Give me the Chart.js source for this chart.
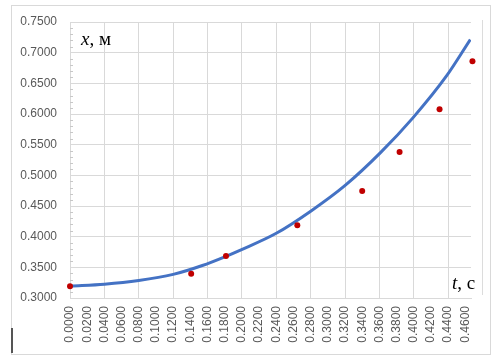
<!DOCTYPE html>
<html>
<head>
<meta charset="utf-8">
<script src="https://cdn.jsdelivr.net/npm/chart.js@4"></script>
<style>
html,body{margin:0;padding:0;background:#fff;}
#wrap{position:relative;width:501px;height:361px;overflow:hidden;}
#frame{position:absolute;left:11px;top:5px;width:480px;height:350px;border:1px solid #d9d9d9;box-sizing:border-box;}
#inner{position:absolute;left:482px;top:20px;width:1px;height:275px;background:#dcdcdc;}
#cursor{position:absolute;left:11px;top:328px;width:2px;height:25px;background:#555;}
canvas{position:absolute;left:0;top:0;}
</style>
</head>
<body>
<div id="wrap">
  <div id="frame"></div>
  <div id="inner"></div>
  <div id="cursor"></div>
  <canvas id="c" width="501" height="361"></canvas>
</div>
<script>
// Measured points (t, s) and (x, m)
const tPoints = [0.000, 0.141, 0.1815, 0.2645, 0.340, 0.3835, 0.4300, 0.4683];
const xPoints = [0.319, 0.3396, 0.3685, 0.4185, 0.4746, 0.5382, 0.6077, 0.6860];

// Trend curve
const tCurve = [0.001, 0.040, 0.080, 0.120, 0.154, 0.1815, 0.199, 0.240, 0.2805, 0.3205, 0.3613, 0.399, 0.4379, 0.4658];
const xCurve = [0.3195, 0.3225, 0.3285, 0.3385, 0.3530, 0.3680, 0.3785, 0.4055, 0.4420, 0.4840, 0.5370, 0.5937, 0.6616, 0.7214];

// Tick labels
const xTicks = [0.00,0.02,0.04,0.06,0.08,0.10,0.12,0.14,0.16,0.18,0.20,0.22,0.24,0.26,0.28,0.30,0.32,0.34,0.36,0.38,0.40,0.42,0.44,0.46];
const yTicks = [0.30,0.35,0.40,0.45,0.50,0.55,0.60,0.65,0.70,0.75];

const GRID = '#d9d9d9';
const LABEL = '#595959';
const FONT = {family: "'Liberation Sans', Arial, sans-serif", size: 12};

const extras = {
  id: 'extras',
  beforeDatasetsDraw(chart) {
    const ctx = chart.ctx, y = chart.scales.y, a = chart.chartArea;
    ctx.save();
    ctx.strokeStyle = '#c8c8c8';
    ctx.lineWidth = 1;
    for (let i = 30; i <= 75; i++) {
      if (i % 5 === 0) continue;
      const py = Math.round(y.getPixelForValue(i / 100)) + 0.5;
      ctx.beginPath();
      ctx.moveTo(a.left, py);
      ctx.lineTo(a.left + 3, py);
      ctx.stroke();
    }
    ctx.restore();
  },
  afterDraw(chart) {
    const ctx = chart.ctx;
    ctx.save();
    ctx.fillStyle = '#000';
    ctx.textBaseline = 'alphabetic';
    // y axis title
    ctx.font = "italic 19px 'Liberation Serif', 'Times New Roman', serif";
    ctx.fillText('x', 81, 45);
    let w = ctx.measureText('x').width;
    ctx.font = "19px 'Liberation Serif', 'Times New Roman', serif";
    ctx.fillText(', м', 81 + w, 45);
    // x axis title
    ctx.font = "italic 19px 'Liberation Serif', 'Times New Roman', serif";
    ctx.fillText('t', 452, 289);
    w = ctx.measureText('t').width;
    ctx.font = "19px 'Liberation Serif', 'Times New Roman', serif";
    ctx.fillText(', с', 452 + w, 289);
    ctx.restore();
  }
};

new Chart(document.getElementById('c'), {
  type: 'scatter',
  data: {
    datasets: [
      {
        type: 'line',
        data: tCurve.map((t, i) => ({x: t, y: xCurve[i]})),
        borderColor: '#4472C4',
        borderWidth: 3,
        pointRadius: 0,
        cubicInterpolationMode: 'monotone',
        fill: false,
        order: 2
      },
      {
        data: tPoints.map((t, i) => ({x: t, y: xPoints[i]})),
        backgroundColor: '#C00000',
        borderColor: '#C00000',
        pointRadius: 3,
        borderWidth: 0,
        clip: false,
        order: 1
      }
    ]
  },
  options: {
    responsive: false,
    animation: false,
    layout: {padding: {left: 0, right: 30, top: 22, bottom: 0}},
    plugins: {legend: {display: false}, tooltip: {enabled: false}},
    scales: {
      x: {
        type: 'linear',
        min: 0,
        max: 0.4666,
        afterBuildTicks: s => { s.ticks = xTicks.map(v => ({value: v})); },
        afterFit: s => { s.height = 63; },
        grid: {
          color: c => (c.tick && Math.round(c.tick.value * 100) % 4 === 0 && c.tick.value > 0) ? GRID : 'rgba(0,0,0,0)',
          drawTicks: false,
          lineWidth: 1
        },
        border: {color: GRID},
        ticks: {
          autoSkip: false,
          maxRotation: 90,
          minRotation: 90,
          padding: 8,
          color: LABEL,
          font: FONT,
          callback: v => Number(v).toFixed(4)
        }
      },
      y: {
        min: 0.30,
        max: 0.75,
        afterBuildTicks: s => { s.ticks = yTicks.map(v => ({value: v})); },
        afterFit: s => { s.width = 70; },
        grid: {color: GRID, drawTicks: false, lineWidth: 1},
        border: {color: GRID},
        ticks: {
          padding: 13,
          color: LABEL,
          font: FONT,
          callback: v => Number(v).toFixed(4)
        }
      }
    }
  },
  plugins: [extras]
});
</script>
</body>
</html>
